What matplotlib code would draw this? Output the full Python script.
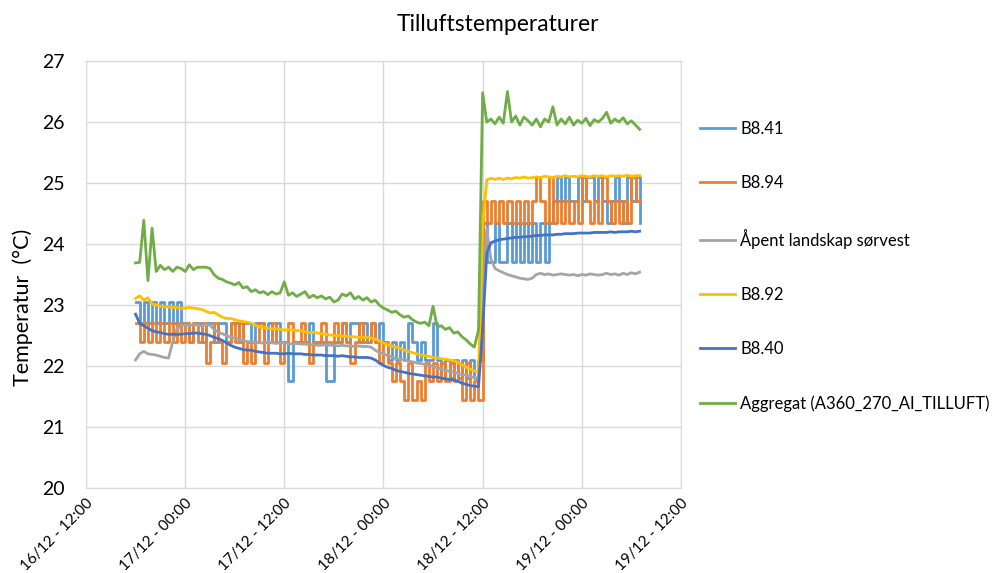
import pandas as pd
import matplotlib
matplotlib.use('Agg')
import matplotlib.pyplot as plt
import matplotlib.dates as mdates

plt.rcParams['font.family'] = ['Lato', 'DejaVu Sans']

# half-hourly readings from 16/12 18:00 to 19/12 07:00
start = '2019-12-16 18:00'
n_points = 123

b841 = [23.05, 22.70, 23.05, 22.70, 23.05, 22.70, 23.05, 22.70, 23.05, 22.70,
        23.05, 22.70, 22.70, 22.40, 22.70, 22.70, 22.40, 22.70, 22.70, 22.40,
        22.70, 22.70, 22.40, 22.70, 22.70, 22.40, 22.70, 22.70, 22.40, 22.70,
        22.70, 22.40, 22.70, 22.40, 22.70, 22.40, 22.40, 21.75, 22.40, 22.40,
        22.40, 22.40, 22.70, 22.40, 22.40, 22.40, 21.75, 21.75, 22.40, 22.40,
        22.70, 22.40, 22.70, 22.70, 22.40, 22.70, 22.40, 22.70, 22.40, 22.70,
        22.40, 22.10, 22.40, 22.10, 22.40, 22.10, 22.70, 22.40, 22.10, 22.40,
        22.10, 22.10, 22.70, 22.10, 21.80, 22.10, 21.80, 22.10, 21.80, 22.10,
        21.80, 22.10, 21.80, 22.10, 24.35, 23.70, 23.70, 24.35, 23.70, 23.70,
        24.35, 23.70, 24.35, 23.70, 24.35, 23.70, 24.35, 23.70, 24.35, 23.70,
        24.35, 24.70, 25.10, 24.70, 25.10, 24.70, 24.70, 25.10, 24.70, 25.10,
        25.10, 24.70, 25.10, 24.70, 24.35, 24.70, 25.10, 24.70, 24.35, 25.10,
        24.70, 25.10, 24.35]

b894 = [22.70, 22.40, 22.70, 22.40, 22.70, 22.40, 22.70, 22.40, 22.70, 22.40,
        22.70, 22.40, 22.70, 22.40, 22.70, 22.40, 22.70, 22.05, 22.40, 22.70,
        22.40, 22.05, 22.40, 22.70, 22.40, 22.70, 22.05, 22.40, 22.05, 22.40,
        22.70, 22.05, 22.40, 22.70, 22.40, 22.05, 22.40, 22.70, 22.40, 22.40,
        22.70, 22.40, 22.05, 22.40, 22.40, 22.70, 22.40, 22.40, 22.70, 22.40,
        22.70, 22.40, 22.05, 22.40, 22.70, 22.40, 22.40, 22.70, 22.40, 22.05,
        22.40, 22.05, 21.75, 22.05, 21.75, 21.45, 22.05, 21.45, 21.75, 21.45,
        22.05, 21.75, 22.05, 21.75, 22.05, 21.75, 22.05, 21.75, 22.05, 21.45,
        22.05, 21.45, 21.75, 21.45, 24.70, 24.35, 24.70, 24.35, 24.70, 24.35,
        24.70, 24.35, 24.70, 24.35, 24.70, 24.35, 24.70, 25.10, 24.70, 24.35,
        25.10, 24.35, 24.70, 24.35, 24.70, 24.35, 24.70, 24.35, 25.10, 24.70,
        24.35, 24.70, 24.35, 25.10, 24.70, 24.35, 24.70, 24.35, 24.70, 24.35,
        25.10, 24.70, 24.70]

aapent = [22.10, 22.20, 22.24, 22.20, 22.19, 22.18, 22.16, 22.14, 22.13, 22.40,
          22.60, 22.67, 22.67, 22.66, 22.68, 22.67, 22.66, 22.68, 22.67, 22.60,
          22.55, 22.53, 22.50, 22.47, 22.46, 22.44, 22.42, 22.40, 22.40, 22.39,
          22.38, 22.38, 22.39, 22.38, 22.37, 22.38, 22.38, 22.37, 22.36, 22.37,
          22.36, 22.36, 22.35, 22.35, 22.34, 22.34, 22.35, 22.34, 22.34, 22.33,
          22.34, 22.33, 22.33, 22.32, 22.33, 22.32, 22.32, 22.31, 22.26, 22.22,
          22.20, 22.17, 22.15, 22.12, 22.11, 22.10, 22.08, 22.07, 22.05, 22.04,
          22.03, 22.01, 21.99, 21.97, 21.95, 21.93, 21.91, 21.90, 21.88, 21.86,
          21.85, 21.83, 21.81, 21.80, 23.00, 24.25, 23.75, 23.60, 23.56, 23.53,
          23.50, 23.48, 23.46, 23.44, 23.43, 23.42, 23.44, 23.50, 23.52, 23.50,
          23.51, 23.49, 23.50, 23.51, 23.50, 23.49, 23.50, 23.48, 23.50, 23.49,
          23.51, 23.50, 23.49, 23.50, 23.52, 23.50, 23.51, 23.49, 23.52, 23.50,
          23.53, 23.51, 23.54]

b892 = [23.11, 23.15, 23.08, 23.12, 23.02, 23.00, 22.98, 22.97, 22.97, 22.96,
        22.96, 22.95, 22.95, 22.96, 22.95, 22.94, 22.93, 22.90, 22.87, 22.88,
        22.84, 22.80, 22.78, 22.78, 22.76, 22.74, 22.73, 22.72, 22.70, 22.67,
        22.64, 22.63, 22.62, 22.61, 22.61, 22.60, 22.59, 22.60, 22.59, 22.58,
        22.58, 22.56, 22.55, 22.55, 22.54, 22.53, 22.52, 22.51, 22.50, 22.50,
        22.49, 22.49, 22.48, 22.48, 22.47, 22.47, 22.47, 22.46, 22.44, 22.41,
        22.38, 22.35, 22.33, 22.31, 22.29, 22.26, 22.24, 22.22, 22.20, 22.18,
        22.17, 22.16, 22.14, 22.13, 22.12, 22.11, 22.10, 22.09, 22.06, 22.02,
        21.98, 21.95, 21.92, 21.90, 24.30, 25.05, 25.08, 25.06, 25.08, 25.06,
        25.08, 25.07, 25.09, 25.08, 25.10, 25.08, 25.09, 25.10, 25.09, 25.11,
        25.10, 25.09, 25.11, 25.10, 25.12, 25.10, 25.11, 25.10, 25.12, 25.11,
        25.10, 25.12, 25.11, 25.12, 25.10, 25.12, 25.11, 25.12, 25.11, 25.13,
        25.11, 25.12, 25.12]

b840 = [22.85, 22.70, 22.66, 22.62, 22.58, 22.56, 22.55, 22.53, 22.52, 22.52,
        22.52, 22.52, 22.53, 22.53, 22.54, 22.54, 22.53, 22.52, 22.50, 22.47,
        22.45, 22.42, 22.38, 22.34, 22.31, 22.29, 22.27, 22.26, 22.26, 22.24,
        22.23, 22.22, 22.21, 22.21, 22.21, 22.20, 22.20, 22.21, 22.20, 22.20,
        22.20, 22.19, 22.19, 22.18, 22.18, 22.18, 22.17, 22.17, 22.17, 22.16,
        22.17, 22.16, 22.15, 22.15, 22.14, 22.14, 22.14, 22.13, 22.10, 22.05,
        22.01, 21.98, 21.96, 21.93, 21.91, 21.90, 21.88, 21.87, 21.86, 21.85,
        21.84, 21.83, 21.82, 21.82, 21.80, 21.79, 21.78, 21.77, 21.75, 21.72,
        21.70, 21.68, 21.67, 21.66, 22.60, 23.85, 24.02, 24.05, 24.07, 24.08,
        24.09, 24.10, 24.11, 24.11, 24.12, 24.12, 24.13, 24.14, 24.14, 24.15,
        24.15, 24.15, 24.16, 24.16, 24.17, 24.17, 24.17, 24.18, 24.18, 24.18,
        24.18, 24.19, 24.19, 24.19, 24.19, 24.20, 24.19, 24.20, 24.20, 24.20,
        24.21, 24.20, 24.21]

aggregat = [23.69, 23.70, 24.39, 23.40, 24.26, 23.55, 23.65, 23.58, 23.62, 23.55,
            23.62, 23.60, 23.55, 23.66, 23.58, 23.62, 23.62, 23.62, 23.60, 23.50,
            23.44, 23.42, 23.38, 23.36, 23.33, 23.37, 23.28, 23.30, 23.22, 23.25,
            23.20, 23.22, 23.17, 23.22, 23.18, 23.20, 23.38, 23.16, 23.20, 23.14,
            23.18, 23.22, 23.12, 23.16, 23.12, 23.15, 23.10, 23.13, 23.05, 23.08,
            23.18, 23.15, 23.20, 23.10, 23.14, 23.08, 23.12, 23.05, 23.08, 23.00,
            22.95, 22.92, 22.88, 22.90, 22.84, 22.80, 22.82, 22.76, 22.72, 22.70,
            22.72, 22.66, 22.98, 22.64, 22.66, 22.60, 22.63, 22.54, 22.56, 22.48,
            22.43, 22.36, 22.31, 22.59, 26.48, 26.00, 26.05, 25.97, 26.08, 25.98,
            26.50, 26.00, 26.10, 25.95, 26.08, 26.02, 25.95, 26.05, 25.92, 26.05,
            26.00, 26.25, 25.95, 26.05, 25.97, 26.08, 25.95, 26.03, 25.98, 26.06,
            25.94, 26.04, 26.00, 26.06, 26.16, 25.98, 26.05, 26.00, 26.07, 25.97,
            26.02, 25.95, 25.88]

labels = ['B8.41', 'B8.94', 'Åpent landskap sørvest', 'B8.92', 'B8.40',
          'Aggregat (A360_270_AI_TILLUFT)']
colors = ['#5B9BD5', '#ED7D31', '#A5A5A5', '#FFC000', '#4472C4', '#70AD47']


def plotChart():
    times = pd.date_range(start, periods=n_points, freq='30min')
    series = [b841, b894, aapent, b892, b840, aggregat]
    steps = [True, True, False, False, False, False]

    fig = plt.figure(figsize=(9.96, 5.73), dpi=100)
    ax = fig.add_axes([0.0863, 0.1483, 0.5974, 0.7452])

    for vals, lab, col, st in zip(series, labels, colors, steps):
        ax.plot(times, vals, color=col, lw=2, label=lab,
                drawstyle='steps-post' if st else 'default')

    ax.set_xlim(pd.Timestamp('2019-12-16 12:00'), pd.Timestamp('2019-12-19 12:00'))
    ax.set_ylim(20, 27)
    ax.set_yticks(range(20, 28))
    ax.xaxis.set_major_locator(mdates.HourLocator(byhour=[0, 12]))
    ax.xaxis.set_major_formatter(mdates.DateFormatter('%d/%m - %H:%M'))

    ax.grid(True, color='#D9D9D9', lw=1)
    ax.set_axisbelow(True)
    for s in ax.spines.values():
        s.set_color('#D9D9D9')
    ax.tick_params(axis='both', length=0)
    ax.tick_params(axis='y', labelsize=14, pad=15)
    ax.tick_params(axis='x', labelsize=11, pad=6)
    for t in ax.get_xticklabels():
        t.set_rotation(45)
        t.set_ha('right')
        t.set_rotation_mode('anchor')

    ax.set_ylabel('Temperatur  (°C)', fontsize=15.5)
    ax.yaxis.set_label_coords(-0.089, 0.424)
    fig.text(0.5, 0.958, 'Tilluftstemperaturer', fontsize=16.5,
             ha='center', va='center')

    fig.legend(loc='upper left', bbox_to_anchor=(0.688, 0.815), frameon=False,
               fontsize=12, handlelength=2.1, handletextpad=0.3,
               labelspacing=2.28)

    fig.savefig('out.png', dpi=100)


if __name__ == "__main__":
    plotChart()
